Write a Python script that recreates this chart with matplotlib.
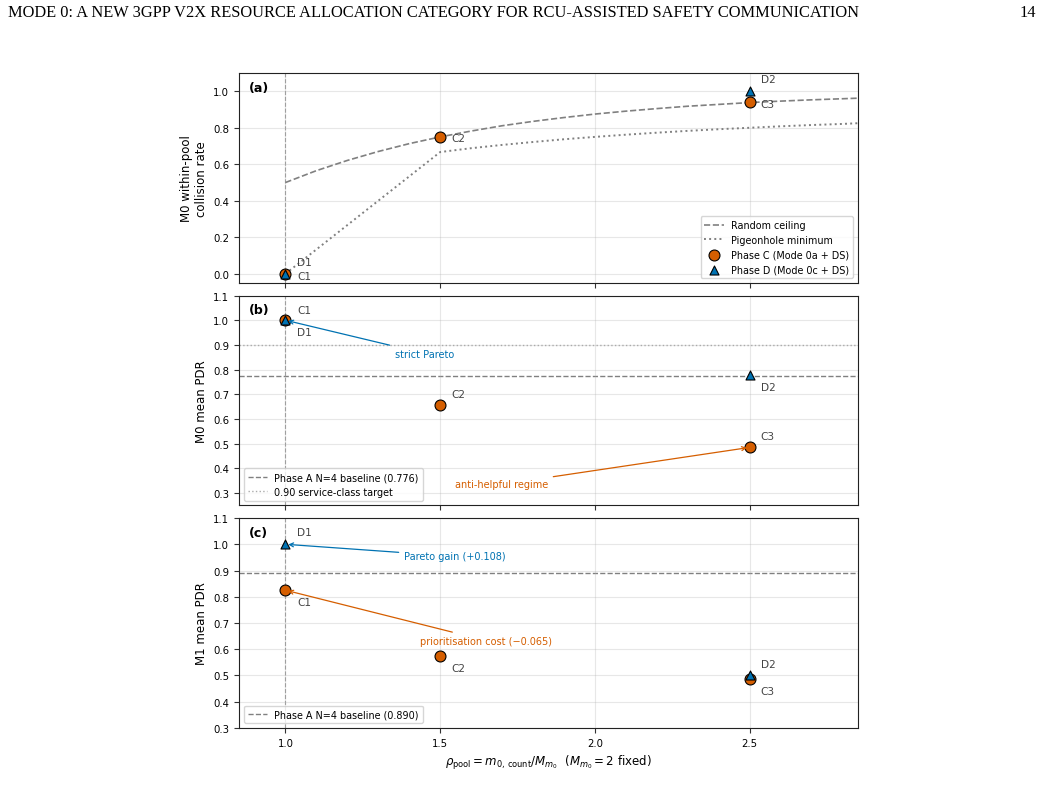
import matplotlib
matplotlib.use("Agg")
import matplotlib.pyplot as plt
import numpy as np

# x positions (rho_pool)
rho_c = [1.0, 1.5, 2.5]
rho_d = [1.0, 2.5]
labels_c = ["C1", "C2", "C3"]
labels_d = ["D1", "D2"]

# (a) M0 within-pool collision rate
coll_c = [0.0, 0.75, 0.94]
coll_d = [0.0, 1.0]

# reference curves
rho_curve = [1.0, 1.1, 1.2, 1.3, 1.4, 1.5, 1.6, 1.7, 1.8, 1.9, 2.0,
             2.1, 2.2, 2.3, 2.4, 2.5, 2.6, 2.7, 2.8, 2.85]
random_ceiling = [0.50, 0.565, 0.621, 0.670, 0.713, 0.75, 0.782, 0.811, 0.835, 0.856, 0.875,
                  0.891, 0.905, 0.918, 0.928, 0.938, 0.946, 0.953, 0.959, 0.962]
rho_pig = [1.0, 1.5, 1.6, 1.7, 1.8, 1.9, 2.0, 2.1, 2.2, 2.3, 2.4, 2.5, 2.6, 2.7, 2.8, 2.85]
pigeonhole = [0.0, 0.667, 0.688, 0.706, 0.722, 0.737, 0.75, 0.762, 0.773, 0.783, 0.792,
              0.80, 0.808, 0.815, 0.821, 0.825]

# (b) M0 mean PDR
m0_c = [1.0, 0.655, 0.485]
m0_d = [1.0, 0.78]
m0_baseline = 0.776
m0_target = 0.90

# (c) M1 mean PDR
m1_c = [0.825, 0.575, 0.485]
m1_d = [1.0, 0.50]
m1_baseline = 0.890

ORANGE = "#D55E00"
BLUE = "#0072B2"
GREY = "#808080"
LBL = "#444444"

fig, axes = plt.subplots(3, 1, sharex=True, figsize=(10.41, 8.03), dpi=100)
fig.subplots_adjust(left=0.2296, right=0.8242, top=1 - 74 / 803, bottom=0.0922, hspace=0.06)
ax_a, ax_b, ax_c = axes

fig.text(0.0077, 0.984, "MODE 0: A NEW 3GPP V2X RESOURCE ALLOCATION CATEGORY FOR RCU-ASSISTED SAFETY COMMUNICATION",
         family="Liberation Serif", fontsize=11.8, ha="left", va="center")
fig.text(0.995, 0.984, "14", family="Liberation Serif", fontsize=11.8, ha="right", va="center")


def points(ax, yc, yd, offs_c, offs_d, legend=False):
    ax.scatter(rho_c, yc, s=62, marker="o", color=ORANGE, edgecolors="black", linewidths=0.8,
               zorder=3, label="Phase C (Mode 0a + DS)" if legend else None)
    ax.scatter(rho_d, yd, s=42, marker="^", color=BLUE, edgecolors="black", linewidths=0.8,
               zorder=4, label="Phase D (Mode 0c + DS)" if legend else None)
    for x, y, t, o in zip(rho_c, yc, labels_c, offs_c):
        ax.annotate(t, (x, y), xytext=o, textcoords="offset points", ha="left", va="center",
                    fontsize=7.6, color=LBL)
    for x, y, t, o in zip(rho_d, yd, labels_d, offs_d):
        ax.annotate(t, (x, y), xytext=o, textcoords="offset points", ha="left", va="center",
                    fontsize=7.6, color=LBL)


for ax in axes:
    ax.axvline(1.0, color=GREY, ls="--", lw=0.8, alpha=0.8, zorder=1)
    ax.grid(True, alpha=0.3)
    ax.tick_params(labelsize=7.3, color="#333333")
    for sp in ax.spines.values():
        sp.set_color("#222222")

# (a)
ax_a.plot(rho_curve, random_ceiling, ls="--", color=GREY, lw=1.2, label="Random ceiling", zorder=2)
ax_a.plot(rho_pig, pigeonhole, ls=":", color=GREY, lw=1.4, label="Pigeonhole minimum", zorder=2)
points(ax_a, coll_c, coll_d,
       [(8.6, -1.4), (8.4, -1.0), (8.0, -1.2)],
       [(8.6, 8.4), (8.0, 8.6)], legend=True)
ax_a.set_ylim(-0.05, 1.1)
ax_a.set_yticks([0.0, 0.2, 0.4, 0.6, 0.8, 1.0])
ax_a.set_ylabel("M0 within-pool\ncollision rate", fontsize=8.5)
ax_a.legend(loc="lower right", fontsize=6.9)

# (b)
ax_b.axhline(m0_baseline, color=GREY, ls="--", lw=1.0, label="Phase A N=4 baseline (0.776)", zorder=1)
ax_b.axhline(m0_target, color="#aaaaaa", ls=":", lw=1.0, label="0.90 service-class target", zorder=1)
points(ax_b, m0_c, m0_d,
       [(8.6, 7.4), (8.0, 8.0), (8.0, 8.0)],
       [(8.6, -8.6), (8.0, -9.2)])
ax_b.annotate("strict Pareto", (rho_d[0], m0_d[0]), xytext=(1.45, 0.865), textcoords="data",
              ha="center", va="center", fontsize=7, color=BLUE,
              arrowprops=dict(arrowstyle="->", color=BLUE, lw=0.9))
ax_b.annotate("anti-helpful regime", (rho_c[2], m0_c[2]), xytext=(1.697, 0.335), textcoords="data",
              ha="center", va="center", fontsize=7, color=ORANGE,
              arrowprops=dict(arrowstyle="->", color=ORANGE, lw=0.9))
ax_b.set_ylim(0.25, 1.1)
ax_b.set_yticks(np.arange(0.3, 1.11, 0.1))
ax_b.set_ylabel("M0 mean PDR", fontsize=8.5)
ax_b.legend(loc="lower left", fontsize=6.9)

# (c)
ax_c.axhline(m1_baseline, color=GREY, ls="--", lw=1.0, label="Phase A N=4 baseline (0.890)", zorder=1)
points(ax_c, m1_c, m1_d,
       [(8.6, -8.6), (8.0, -8.6), (8.0, -8.0)],
       [(8.6, 8.6), (8.0, 8.6)])
ax_c.annotate("Pareto gain (+0.108)", (rho_d[0], m1_d[0]), xytext=(1.548, 0.954), textcoords="data",
              ha="center", va="center", fontsize=7, color=BLUE,
              arrowprops=dict(arrowstyle="->", color=BLUE, lw=0.9))
ax_c.annotate("prioritisation cost (\u22120.065)", (rho_c[0], m1_c[0]), xytext=(1.648, 0.633),
              textcoords="data", ha="center", va="center", fontsize=7, color=ORANGE,
              arrowprops=dict(arrowstyle="->", color=ORANGE, lw=0.9))
ax_c.set_ylim(0.3, 1.1)
ax_c.set_yticks(np.arange(0.3, 1.11, 0.1))
ax_c.set_ylabel("M1 mean PDR", fontsize=8.5)
ax_c.legend(loc="lower left", fontsize=6.9)

ax_c.set_xlim(0.85, 2.85)
ax_c.set_xticks([1.0, 1.5, 2.0, 2.5])
ax_c.set_xlabel(r"$\rho_{\mathrm{pool}} = m_{0,\,\mathrm{count}}/M_{m_0}$  ($M_{m_0} = 2$ fixed)", fontsize=8.5)

for ax, lab in zip(axes, ["(a)", "(b)", "(c)"]):
    ax.text(0.016, 0.932, lab, transform=ax.transAxes, fontsize=9, fontweight="bold", va="center")

fig.savefig("out.png", dpi=100)
